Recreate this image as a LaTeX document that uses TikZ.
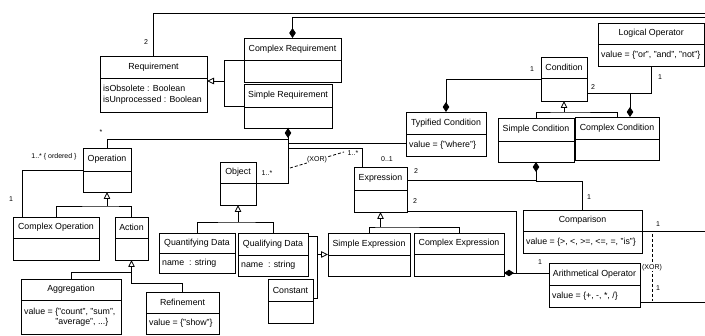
\documentclass[tikz,border=0pt]{standalone}
\usepackage{fontspec}
\setmainfont{Liberation Sans}
\usetikzlibrary{arrows.meta}
\tikzset{
  umlbox/.style={draw, line width=0.8pt, inner sep=0pt, outer sep=0pt, fill=white},
  ttl/.style={font=\fontsize{8.8}{10}\selectfont, inner sep=0pt},
  att/.style={font=\fontsize{8.8}{10.8}\selectfont, inner sep=0pt, align=left, anchor=west},
  mult/.style={font=\fontsize{7}{8}\selectfont, inner sep=0.5pt},
  conn/.style={line width=0.8pt},
  comp/.style={conn, arrows={Diamond[length=10pt,width=6.5pt]-}},
  gen/.style={conn, arrows={-Triangle[open,length=7pt,width=6.5pt,fill=white]}},
  xor/.style={conn, dash pattern=on 3pt off 2pt}
}
\newcommand\umlclass[8]{%
  \node[umlbox, minimum width={(#4-#2)*1pt}, minimum height={(#5-#3)*1pt}, anchor=north west] (#1) at (#2,#3) {};
  \draw[conn] (#2,#6) -- (#4,#6);
  \node[ttl] (#1t) at ({(#2+#4)/2},{(#3+#6)/2}) {#7};
  \node[att] (#1a) at ({#2+3},{(#6+#5)/2}) {#8};
}
\begin{document}
\begin{tikzpicture}[x=1pt,y=-1pt]
\fill[white] (0,0) rectangle (705,336);
\useasboundingbox (0,0) rectangle (705,336);

% classes
\umlclass{req}{100}{56}{207}{112}{78}{Requirement}{isObsolete : Boolean\\isUnprocessed : Boolean}
\umlclass{cr}{244}{38}{341}{82}{60}{Complex Requirement}{}
\umlclass{sr}{244}{84}{332}{128}{107}{Simple Requirement}{}
\umlclass{tc}{406}{112}{486}{156}{134}{Typified Condition}{value = \{"where"\}}
\umlclass{cond}{541}{57}{587}{101}{78}{Condition}{}
\umlclass{lo}{598}{23}{704.4}{66}{44}{Logical Operator}{value = \{"or", "and", "not"\}}
\umlclass{sc}{498}{118}{574}{162}{141}{Simple Condition}{}
\umlclass{cc}{575}{117}{659}{160}{139}{Complex Condition}{}
\umlclass{op}{83}{148}{131}{192}{171}{Operation}{}
\umlclass{cop}{13}{217}{99}{260}{238}{Complex Operation}{}
\umlclass{act}{115}{217}{148}{260}{238}{Action}{}
\umlclass{agg}{21}{279}{121}{334.5}{300}{Aggregation}{value = \{"count", "sum",\\\hspace*{11mm}"average", ...\}}
\umlclass{ref}{146}{292}{219}{334}{313}{Refinement}{value = \{"show"\}}
\umlclass{obj}{220}{162}{256}{205}{183}{Object}{}
\umlclass{quant}{159}{233}{235}{273}{253}{Quantifying Data}{name~~: string}
\umlclass{qual}{238}{233}{308}{276}{255}{Qualifying Data}{name~~: string}
\umlclass{const}{268}{279}{313}{323}{301}{Constant}{}
\umlclass{expr}{354}{167}{407}{212}{190}{Expression}{}
\umlclass{sexp}{328}{233}{410}{276}{255}{Simple Expression}{}
\umlclass{cexp}{414}{233}{504}{276}{254}{Complex Expression}{}
\umlclass{cmp}{523}{210}{642}{253}{231}{Comparison}{value = \{>, <, >=, <=, =, "is"\}}
\umlclass{ao}{549}{263}{640}{307}{285}{Arithmetical Operator}{value = \{+, -, *, /\}}

% free ends and junctions
\coordinate (e1) at (705,13);
\coordinate (e2) at (705,17);
\coordinate (e3) at (705,231.5);
\coordinate (e4) at (705,302);
\coordinate (g1) at (224,81);
\coordinate (g2) at (107,206);
\coordinate (g3) at (131.5,272);
\coordinate (g4) at (238,222);
\coordinate (g5) at (317,254.5);
\coordinate (g6) at (380.5,227);
\coordinate (g7) at (564,112);
\coordinate (xa) at (290,168);
\coordinate (xb) at (344,152);
\coordinate (xc) at (652,234);
\coordinate (xd) at (652,301);

% requirement
\draw[conn] (req.north) |- (e1);
\draw[comp] (cr.north) |- (e2);
\draw[conn] (cr.west) -| (g1);
\draw[conn] (sr.west) -| (g1);
\draw[gen] (g1) -- (req.east |- g1);

% simple requirement composition
\draw[comp] (sr.south) -- ++(0,11) -| (op.north);
\draw[conn] (sr.south) |- ([yshift=-9pt]tc.west);
\draw[conn] (sr.south) |- (obj.east);
\draw[conn] (sr.south) -- ++(0,20) -| ([xshift=-18pt]expr.north);
\draw[xor] (xa) -- node[mult, fill=white] (xor1) {(XOR)} (xb);

% operation
\draw[conn] (op.west) -| ([xshift=9pt]cop.north west);
\draw[conn] (cop.north) |- (g2) -| (act.north);
\draw[gen] (g2) -- (op.south);
\draw[conn] (agg.north) |- (g3);
\draw[conn] (g3) -- ++(0,11) -| (ref.north);
\draw[gen] (g3) -- (act.south);

% object
\draw[conn] (quant.north) |- (g4) -| (qual.north);
\draw[gen] (g4) -- (obj.south);
\draw[conn] ([yshift=18pt]qual.east) -| (g5);
\draw[conn] ([yshift=3pt]const.east) -| (g5);
\draw[gen] (g5) -- (sexp.west);

% expression
\draw[conn] (sexp.north) |- (g6) -| (cexp.north);
\draw[gen] (g6) -- (expr.south);

% conditions
\draw[comp] (tc.north) |- (cond.west);
\draw[conn] (sc.north) |- (g7) -| (cc.north);
\draw[gen] (g7) -- (cond.south);
\draw[conn] ([yshift=-14pt]cond.east) -| (lo.south);
\draw[comp] ([xshift=13pt]cc.north) |- ([yshift=-14pt]cond.east);
\draw[comp] (sc.south) |- ([yshift=9.5pt]expr.east);
\draw[conn] (sc.south) -- ++(0,19) -| (cmp.north);

% complex expression
\draw[comp] ([yshift=-18.5pt]cexp.east) -- ++(12,0) |- ([yshift=-21.5pt]expr.east);
\draw[conn] ([yshift=-18.5pt]cexp.east) -- ([yshift=12pt]ao.west);

% right side
\draw[conn] (cmp.east) -- (e3);
\draw[conn] ([yshift=-17pt]ao.east) -- (e4);
\draw[xor] (xc) -- node[mult, fill=white] (xor2) {(XOR)} (xd);

% multiplicities
\node[mult] (m1) at (146,42) {2};
\node[mult] (m2) at (101,132) {*};
\node[mult] (m3) at (54,157) {1..* \{ ordered \}};
\node[mult] (m4) at (11,199) {1};
\node[mult] (m5) at (267,173) {1..*};
\node[mult] (m6) at (353,153) {1..*};
\node[mult] (m7) at (387,159) {0..1};
\node[mult] (m8) at (532,69) {1};
\node[mult] (m9) at (593,87) {2};
\node[mult] (m10) at (660,77) {1};
\node[mult] (m11) at (416,171) {2};
\node[mult] (m12) at (415,201) {2};
\node[mult] (m13) at (589,197) {1};
\node[mult] (m14) at (540,262) {1};
\node[mult] (m15) at (658,224) {1};
\node[mult] (m16) at (658,288) {1};
\end{tikzpicture}
\end{document}
